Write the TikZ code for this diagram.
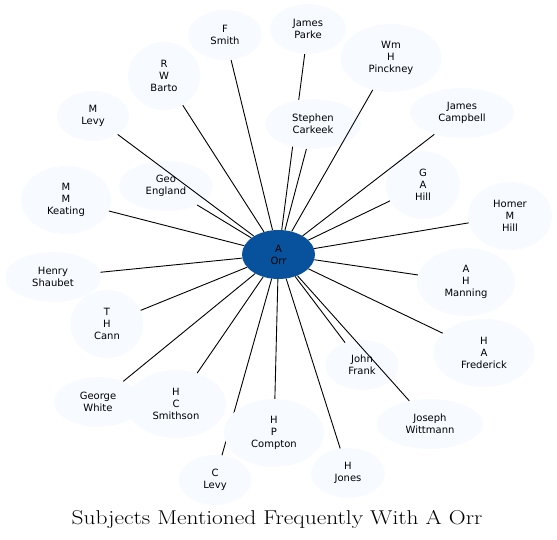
\documentclass[tikz,border=0pt]{standalone}
\usepackage{fontspec}
\newfontfamily\nodefont{DejaVu Sans}
\usetikzlibrary{shapes.geometric}
\definecolor{lightnode}{HTML}{F7FBFF}
\definecolor{centernode}{HTML}{08519C}
\tikzset{
  person/.style={ellipse, fill=lightnode, draw=none, inner sep=0pt, align=center,
    font=\nodefont\fontsize{10}{12}\selectfont},
  hub/.style={person, fill=centernode},
  link/.style={draw=black, line width=0.9pt}
}
\begin{document}
\begin{tikzpicture}[x=1pt,y=-1pt]
\useasboundingbox (0,0) rectangle (557,540);
% hub
\node[hub, minimum width=73pt, minimum height=49pt] (orr) at (278.5,254.5) {A\\Orr};
% nodes
\node[person, minimum width=74pt, minimum height=50pt] (fsmith) at (225,35) {F\\Smith};
\node[person, minimum width=72pt, minimum height=68pt] (barto) at (164,76) {R\\W\\Barto};
\node[person, minimum width=72pt, minimum height=50pt] (mlevy) at (93,116) {M\\Levy};
\node[person, minimum width=94pt, minimum height=50pt] (england) at (166,186) {Geo\\England};
\node[person, minimum width=90pt, minimum height=68pt] (keating) at (66,200) {M\\M\\Keating};
\node[person, minimum width=96pt, minimum height=50pt] (shaubet) at (53,277) {Henry\\Shaubet};
\node[person, minimum width=73pt, minimum height=68pt] (cann) at (107,324) {T\\H\\Cann};
\node[person, minimum width=88pt, minimum height=50pt] (white) at (98,402) {George\\White};
\node[person, minimum width=100pt, minimum height=68pt] (smithson) at (176,404) {H\\C\\Smithson};
\node[person, minimum width=73pt, minimum height=50pt] (clevy) at (215,480) {C\\Levy};
\node[person, minimum width=74pt, minimum height=50pt] (jones) at (348,473) {H\\Jones};
\node[person, minimum width=106pt, minimum height=50pt] (wittmann) at (430,424) {Joseph\\Wittmann};
\node[person, minimum width=73pt, minimum height=50pt] (frank) at (362,365) {John\\Frank};
\node[person, minimum width=101pt, minimum height=68pt] (frederick) at (484,353) {H\\A\\Frederick};
\node[person, minimum width=98pt, minimum height=68pt] (manning) at (466,282) {A\\H\\Manning};
\node[person, minimum width=84pt, minimum height=68pt] (homer) at (510,216) {Homer\\M\\Hill};
\node[person, minimum width=74pt, minimum height=68pt] (gahill) at (423,185) {G\\A\\Hill};
\node[person, minimum width=104pt, minimum height=50pt] (campbell) at (462,113) {James\\Campbell};
\node[person, minimum width=101pt, minimum height=68pt] (pinckney) at (391,58) {Wm\\H\\Pinckney};
\node[person, minimum width=76pt, minimum height=50pt] (parke) at (308,29) {James\\Parke};
% links drawn before the overlapping nodes
\foreach \t in {fsmith,barto,mlevy,england,keating,shaubet,cann,white,smithson,clevy,jones,wittmann,frank,frederick,manning,homer,gahill,campbell,parke}
  \draw[link] (orr) -- (\t);
% nodes that cover some links
\node[person, minimum width=96pt, minimum height=50pt] (carkeek) at (313,124) {Stephen\\Carkeek};
\node[person, minimum width=100pt, minimum height=68pt] (compton) at (274,433) {H\\P\\Compton};
\draw[link] (orr) -- (carkeek);
\draw[link] (orr) -- (compton);
\draw[link] (orr) -- (pinckney);
% title
\node[font=\fontsize{20}{24}\selectfont, inner sep=0pt] (title) at (277,519) {\scalebox{1.17}[1]{Subjects Mentioned Frequently With A Orr}};
\end{tikzpicture}
\end{document}
